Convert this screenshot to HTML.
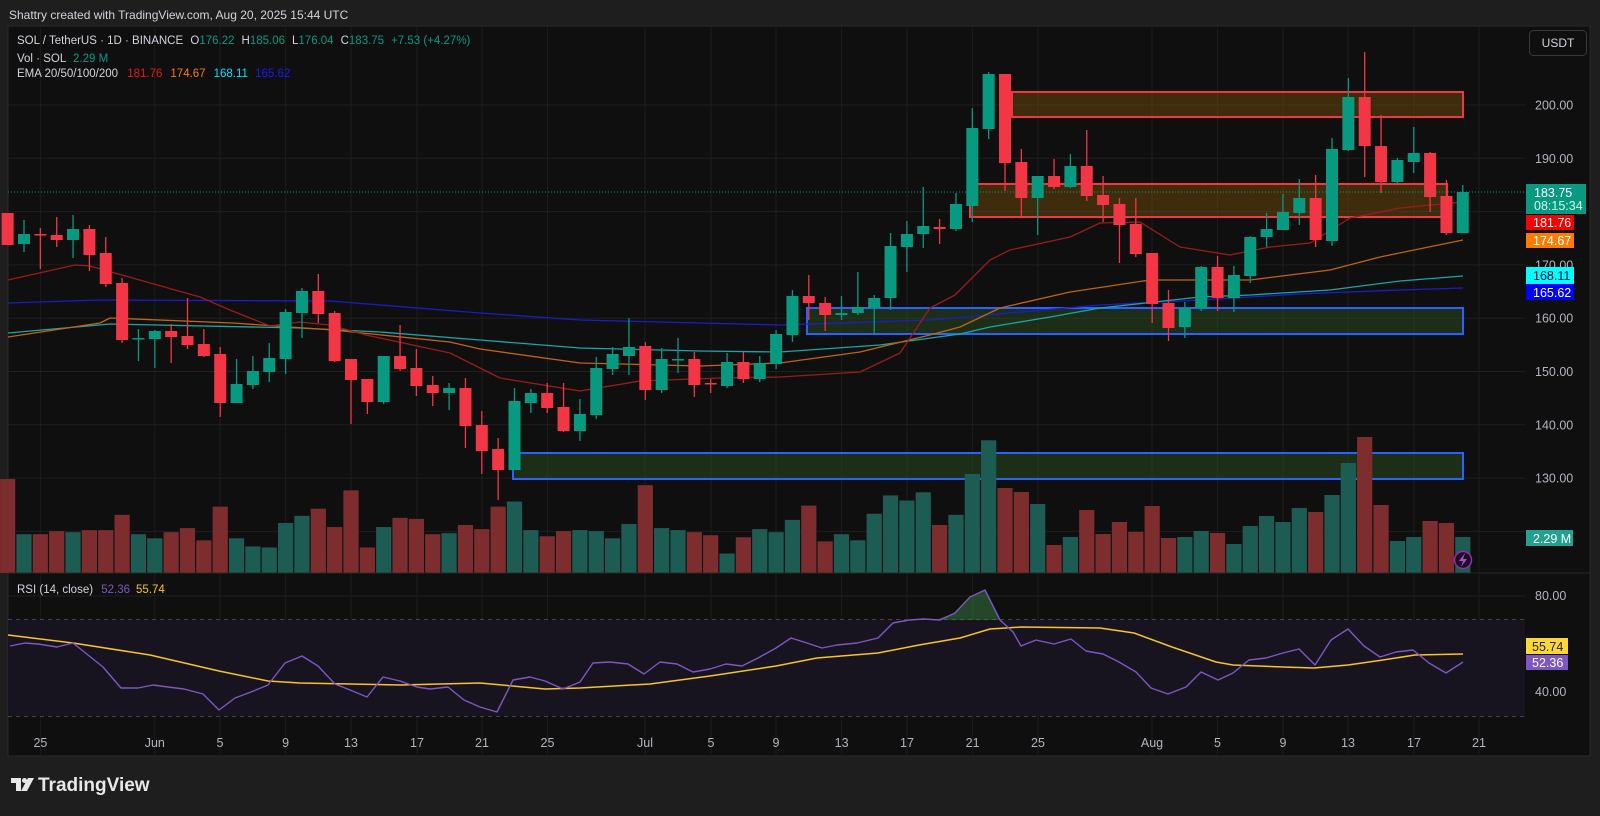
<!DOCTYPE html>
<html><head><meta charset="utf-8">
<style>
html,body{margin:0;padding:0;background:#1e1e1e;width:1600px;height:816px;overflow:hidden}
svg{display:block}
text{font-family:"Liberation Sans",sans-serif}
</style></head>
<body>
<svg id="s" width="1600" height="816" xmlns="http://www.w3.org/2000/svg">
<rect x="0" y="0" width="1600" height="816" fill="#1e1e1e"/>
<text x="9" y="19" font-size="12" fill="#d1d4dc">Shattry created with TradingView.com, Aug 20, 2025 15:44 UTC</text>
<rect x="8" y="26" width="1582" height="730" fill="#0f0f0f" stroke="#2a2a2a" stroke-width="1"/>
<g id="grid"></g>
<rect x="8" y="620" width="1517" height="96" fill="#17141f"/>
<g id="zones"></g>
<g id="vol"></g>
<g id="ema"></g>
<g id="candles"></g>
<g id="rsi"></g>
<line x1="8" y1="573" x2="1590" y2="573" stroke="#2a2a2a"/>
<line x1="8" y1="192" x2="1525" y2="192" stroke="#089981" stroke-dasharray="1 2"/>
<g id="axis" font-size="12.5" fill="#b2b5be"></g>
<!-- legends -->
<text x="17" y="44" font-size="11.5" fill="#d1d4dc">SOL / TetherUS · 1D · BINANCE <tspan dx="4">O</tspan><tspan fill="#089981">176.22</tspan><tspan dx="7">H</tspan><tspan fill="#089981">185.06</tspan><tspan dx="7">L</tspan><tspan fill="#089981">176.04</tspan><tspan dx="7">C</tspan><tspan fill="#089981">183.75</tspan><tspan dx="7" fill="#089981">+7.53 (+4.27%)</tspan></text>
<text x="17" y="62" font-size="11.5" fill="#d1d4dc">Vol · SOL <tspan dx="4" fill="#089981">2.29 M</tspan></text>
<text x="17" y="77" font-size="11.5" fill="#d1d4dc">EMA 20/50/100/200 <tspan dx="6" fill="#e01b1b">181.76</tspan><tspan dx="8" fill="#f57c00">174.67</tspan><tspan dx="8" fill="#00e5ff">168.11</tspan><tspan dx="8" fill="#1a1aff">165.62</tspan></text>
<text x="17" y="593" font-size="11.5" fill="#d1d4dc">RSI (14, close) <tspan dx="5" fill="#7e57c2">52.36</tspan><tspan dx="6" fill="#f7c325">55.74</tspan></text>
<rect x="1529.5" y="30.5" width="57" height="25" rx="4" fill="#0f0f0f" stroke="#3a3a3a"/>
<text x="1558" y="47" font-size="12" fill="#d1d4dc" text-anchor="middle">USDT</text>
<!-- price tags -->
<rect x="1526" y="184" width="60" height="30" fill="#089981"/>
<text x="1534" y="197" font-size="12.5" fill="#fff">183.75</text>
<text x="1534" y="210" font-size="12.5" fill="#cfe">08:15:34</text>
<rect x="1526" y="215" width="48" height="15" fill="#f60000"/>
<text x="1533" y="227" font-size="12.5" fill="#fff">181.76</text>
<rect x="1526" y="233" width="48" height="15" fill="#ff7a00"/>
<text x="1533" y="245" font-size="12.5" fill="#fff">174.67</text>
<rect x="1526" y="267" width="48" height="17" fill="#00ffff"/>
<text x="1533" y="280" font-size="12.5" fill="#003">168.11</text>
<rect x="1526" y="284" width="48" height="16" fill="#0000ff"/>
<text x="1533" y="297" font-size="12.5" fill="#fff">165.62</text>
<rect x="1526" y="530" width="47" height="16" fill="#22a090"/>
<text x="1533" y="543" font-size="12.5" fill="#fff">2.29 M</text>
<rect x="1526" y="638" width="42" height="16" fill="#fdd835"/>
<text x="1532" y="651" font-size="12.5" fill="#222">55.74</text>
<rect x="1526" y="655" width="42" height="15" fill="#7e57c2"/>
<text x="1532" y="667" font-size="12.5" fill="#fff">52.36</text>
<circle cx="1463" cy="560" r="8.5" fill="#1a0f22" stroke="#9c27b0" stroke-width="1.5"/>
<path d="M1465 553 L1459 561 L1463 561 L1461 567 L1467 559 L1463 559 Z" fill="#b04cd0"/>
<!-- logo -->
<g transform="translate(11,778)" fill="#e8e8e8">
<path d="M0 0 H10 V13 H5 V5 H0 Z"/><circle cx="13.5" cy="2.5" r="2.5"/><path d="M17 0 H23 L16 13 H10 Z"/>
</g>
<text x="38" y="791" font-size="19" font-weight="bold" fill="#e8e8e8">TradingView</text>
</svg>
<script>
const NS="http://www.w3.org/2000/svg";
function el(p,t,a,txt){const e=document.createElementNS(NS,t);for(const k in a)e.setAttribute(k,a[k]);if(txt!==undefined)e.textContent=txt;document.getElementById(p).appendChild(e);return e;}
const X=i=>7.65+16.35*i; // i=0 May23
const PY=p=>105+(200-p)*5.33;
// grid
[40.4,154.8,220,285.6,351,417,482,547.5,645,711,776,841.6,907,972.6,1038,1152,1217.5,1283,1348,1414,1479].forEach(x=>el('grid','line',{x1:x,y1:26,x2:x,y2:756,stroke:'#1c1c1c'}));
for(let p=120;p<=200;p+=10){el('grid','line',{x1:8,y1:PY(p),x2:1525,y2:PY(p),stroke:'#1f1f1f'});}
el('grid','line',{x1:8,y1:596,x2:1525,y2:596,stroke:'#1f1f1f'});
el('grid','line',{x1:8,y1:692,x2:1525,y2:692,stroke:'#262430'});
[620,668,716].forEach(y=>el('grid','line',{x1:8,y1:y,x2:1525,y2:y,stroke:'#787878','stroke-dasharray':'4 4'}));
// axis labels
[200,190,180,170,160,150,140,130].forEach(p=>{if(p!==180)el('axis','text',{x:1535,y:PY(p)+4.5},p.toFixed(2));});
el('axis','text',{x:1535,y:600},'80.00');el('axis','text',{x:1535,y:696},'40.00');
const tl=[[40.4,'25'],[154.8,'Jun'],[220,'5'],[285.6,'9'],[351,'13'],[417,'17'],[482,'21'],[547.5,'25'],[645,'Jul'],[711,'5'],[776,'9'],[841.6,'13'],[907,'17'],[972.6,'21'],[1038,'25'],[1152,'Aug'],[1217.5,'5'],[1283,'9'],[1348,'13'],[1414,'17'],[1479,'21']];
tl.forEach(([x,t])=>el('axis','text',{x:x,y:747,'text-anchor':'middle'},t));
// zones
const zf='rgba(120,80,10,0.45)',gf='rgba(45,85,35,0.45)';
el('zones','rect',{x:1012,y:92,width:451,height:25,fill:zf,stroke:'#f23645','stroke-width':2});
el('zones','rect',{x:970,y:184,width:477,height:33,fill:zf,stroke:'#f23645','stroke-width':2});
el('zones','rect',{x:807,y:308,width:656,height:26,fill:gf,stroke:'#2962ff','stroke-width':2});
el('zones','rect',{x:513,y:453,width:950,height:26,fill:gf,stroke:'#2962ff','stroke-width':2});
// candles
const C=[[213,245,213,245],[244,234,220,252],[234,234.5,228,269],[235,240,217,247],[240,229,215,258],[229,255,225,271],[253,284,237,287],[283,340,278,343],[339,338,329,361],[339,331,330,368],[331,337,324,363],[336,345,298,349],[344,356,329,357],[354,403,347,417],[403,384,359,403],[385,371,356,389],[372,358,343,382],[359,312,309,374],[313,291,288,338],[291,314,274,323],[313,361,311,362],[359,380,359,424],[379,402,379,414],[402,356,356,404],[356,369,325,371],[368,386,349,396],[385,393,376,406],[393,388,383,410],[388,426,378,448],[425,451,411,474],[449,470,438,500],[470,401,388,470],[403,393,389,413],[393,408,383,413],[407,431,383,432],[431,414,399,441],[415,368,357,419],[369,354,347,375],[356,347,318,375],[346,390,342,400],[390,359,348,393],[360,359,338,373],[359,385,352,397],[383,384,379,393],[386,362,353,388],[362,379,352,383],[379,363,356,382],[364,334,330,369],[335,296,290,342],[296,303,275,320],[303,315,297,331],[315,313,296,320],[313,307,272,315],[308,298,295,333],[298,246,233,310],[247,234,221,272],[234,226,187,248],[227,229,219,244],[229,204,193,231],[206,128,108,222],[129,74,72,139],[74,163,74,191],[162,198,149,217],[198,176,176,235],[176,187,159,189],[187,166,154,188],[166,196,130,201],[195,205,176,222],[204,225,198,263],[224,254,198,257],[253,304,253,323],[303,328,290,341],[327,308,302,338],[308,267,266,311],[267,298,256,311],[298,275,266,312],[276,237,236,283],[237,229,213,247],[230,212,194,230],[213,198,179,225],[198,240,175,247],[241,149,138,246],[150,97,78,151],[97,146,52,177],[146,182,115,193],[182,160,158,184],[162,153,127,173],[153,197,152,212],[196,233,180,235],[233,192,185,233]];
// volumes
const pv=[470,524,524,521,522,520,520,505,524,528,522,518,530,497,528,536,537,513,506,499,517,481,537,517,508,509,524,523,515,519,497,492,520,526,521,520,521,528,514,476,518,520,522,525,543,527,519,522,510,496,531,524,530,504,486,491,483,515,505,465,432];
let V=pv.map(p=>573-(562-p)*1.021);
V=V.concat([488,492,504,545,537,510,534,522,532,506,538,537,531,533,544,526,516,522,508,512,495,463,437,505,541,537,521,523,537]);
C.forEach((c,i)=>{const up=c[1]<c[0];const x=X(i);
  const vt=V[i]||540;
  el('vol','rect',{x:x-7.6,y:vt,width:15.2,height:573-vt,fill:up?'#1d5c53':'#7e2d2f'});
  const col=up?'#089981':'#f23645';
  el('candles','line',{x1:x,y1:c[2],x2:x,y2:c[3],stroke:col,'stroke-width':1.3});
  const t=Math.min(c[0],c[1]),h=Math.max(1.5,Math.abs(c[1]-c[0]));
  el('candles','rect',{x:x-6,y:t,width:12,height:h,fill:col});
});
// EMAs
function pl(g,pts,col,w){el(g,'polyline',{points:pts.map(p=>p.join(',')).join(' '),fill:'none',stroke:col,'stroke-width':w||1.3,'stroke-linejoin':'round'});}
pl('ema',[[8,303],[100,300],[330,301],[480,313],[580,320],[700,323],[780,325],[900,321],[930,320],[1100,305],[1200,300],[1300,294],[1400,290],[1463,288]],'#1c1cc8');
pl('ema',[[8,333],[110,324],[300,328],[380,332],[480,340],[580,348],[700,351],[780,352],[880,345],[960,334],[990,327],[1050,317],[1100,308],[1200,297],[1250,295],[1330,290],[1400,281],[1463,276]],'#1aa6a6');
pl('ema',[[8,337],[100,323],[110,318],[233,323],[333,330],[450,342],[480,349],[580,363],[700,366],[780,363],[860,352],[930,335],[960,327],[1000,308],[1070,292],[1150,280],[1250,280],[1330,270],[1380,257],[1463,240]],'#c26411');
pl('ema',[[8,280],[75,265],[90,266],[200,297],[230,310],[270,326],[300,322],[330,325],[366,335],[450,353],[480,368],[500,378],[580,391],[640,381],[720,378],[780,377],[860,372],[900,353],[930,308],[955,295],[990,260],[1010,250],[1070,237],[1100,223],[1140,222],[1180,247],[1230,255],[1270,247],[1310,243],[1350,218],[1400,208],[1463,202]],'#9b1b1b');
// RSI
const rp=[[10,646],[25,643],[38,644],[57,647],[73,643],[103,667],[121,688],[138,688],[153,685],[168,687],[184,689],[203,694],[219,710],[235,698],[251,692],[268,685],[285,663],[302,656],[318,666],[335,684],[350,690],[367,697],[383,677],[400,681],[417,687],[430,689],[448,687],[464,700],[480,707],[497,712],[513,680],[530,677],[545,681],[563,689],[580,682],[593,663],[610,662],[628,664],[644,674],[660,662],[677,664],[693,672],[710,669],[726,664],[742,666],[758,658],[776,648],[791,638],[807,643],[822,648],[837,645],[857,643],[878,638],[893,623],[909,620],[924,619],[940,620],[955,613],[970,597],[985,590],[1000,620],[1013,632],[1021,646],[1036,640],[1054,644],[1071,639],[1086,651],[1103,654],[1119,662],[1136,672],[1151,688],[1168,694],[1186,687],[1201,672],[1218,680],[1233,673],[1249,660],[1266,658],[1283,653],[1299,649],[1315,665],[1331,640],[1348,629],[1364,646],[1380,657],[1396,652],[1413,650],[1429,663],[1446,673],[1463,662]];
const yp=[[8,635],[73,643],[150,655],[219,671],[268,681],[300,683],[400,685],[480,683],[545,689],[580,688],[650,684],[710,676],[776,666],[817,658],[878,653],[919,645],[960,638],[990,629],[1021,627],[1100,628],[1134,633],[1172,647],[1216,662],[1233,665],[1283,667],[1314,668],[1348,665],[1383,660],[1415,655],[1463,654]];
el('rsi','polygon',{points:'935,620 955,613 970,597 985,590 1000,620',fill:'rgba(60,140,70,0.45)'});
pl('rsi',yp,'#f7c325',1.5);
pl('rsi',rp,'#7e57c2',1.4);
</script>
</body></html>
